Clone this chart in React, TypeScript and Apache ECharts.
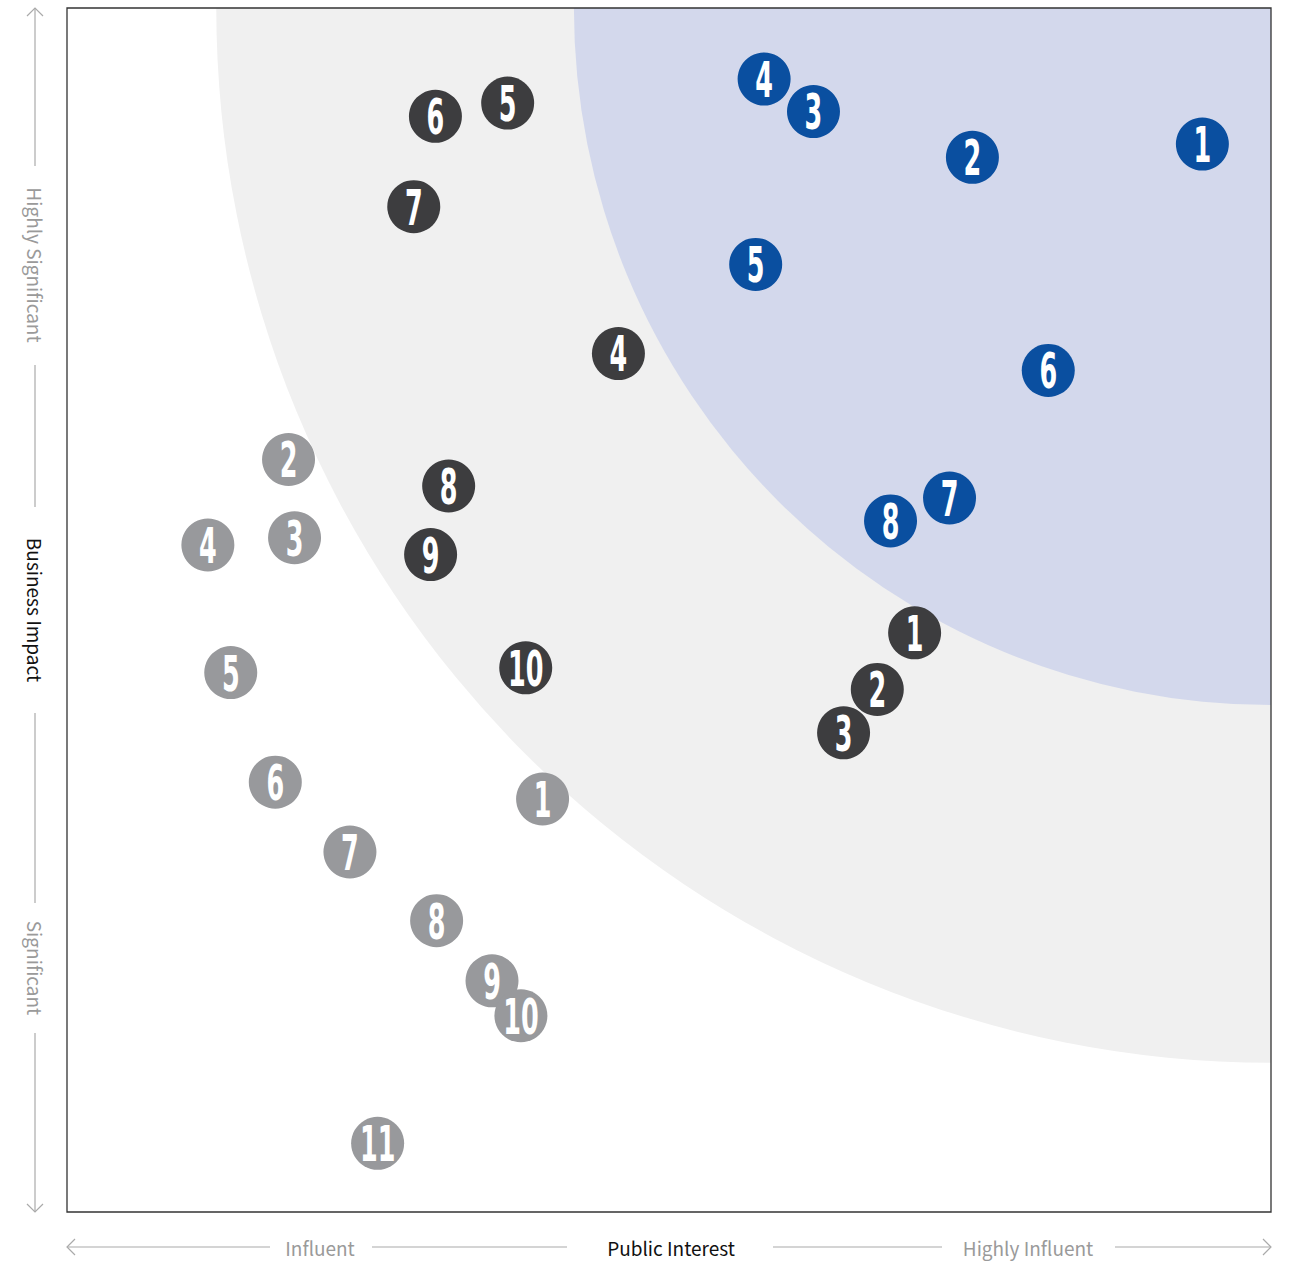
import React, { useEffect, useRef } from "react";
import * as echarts from "echarts";

// Point values on a 0–100 scale (x: Public Interest, y: Business Impact)
const blueLabels = ["1", "2", "4", "3", "5", "6", "7", "8"];
const blueX = [94.3, 75.2, 57.9, 62.0, 57.2, 81.5, 73.3, 68.4];
const blueY = [88.7, 87.6, 94.1, 91.4, 78.7, 69.9, 59.3, 57.4];

const darkLabels = ["1", "2", "3", "4", "5", "6", "7", "8", "9", "10"];
const darkX = [70.4, 67.3, 64.5, 45.8, 36.6, 30.6, 28.8, 31.7, 30.2, 38.1];
const darkY = [48.1, 43.4, 39.8, 71.3, 92.1, 91.0, 83.5, 60.3, 54.6, 45.2];

const grayLabels = ["1", "2", "3", "4", "5", "6", "7", "8", "9", "10", "11"];
const grayX = [39.5, 18.4, 18.9, 11.7, 13.6, 17.3, 23.5, 30.7, 35.3, 37.7, 25.8];
const grayY = [34.3, 62.5, 56.0, 55.4, 44.8, 35.7, 29.9, 24.2, 19.2, 16.3, 5.7];

// Zone radii (in axis units) centred at the top-right corner
const zoneOuterRadius = 87.6;
const zoneInnerRadius = 57.9;

const xAxisLabels = ["Influent", "Public Interest", "Highly Influent"];
const yAxisLabels = ["Highly Significant", "Business Impact", "Significant"];

const BLUE = "#0a4fa0";
const DARK = "#3d3d3f";
const GRAY = "#98999c";

function zoneSeries(radius: number, fill: string) {
  return {
    type: "custom",
    silent: true,
    clip: true,
    data: [[100, 100, radius]],
    encode: { x: 0, y: 1 },
    renderItem: (params: any, api: any) => {
      const c = api.coord([api.value(0), api.value(1)]);
      const r = api.size([api.value(2), 0])[0];
      return {
        type: "sector",
        shape: { cx: c[0], cy: c[1], r, r0: 0, startAngle: Math.PI / 2, endAngle: Math.PI, clockwise: true },
        style: { fill },
      };
    },
  };
}

function markerSeries(labels: string[], xs: number[], ys: number[], color: string) {
  return {
    type: "custom",
    clip: false,
    data: xs.map((x, i) => [x, ys[i]]),
    encode: { x: 0, y: 1 },
    renderItem: (params: any, api: any) => {
      const p = api.coord([api.value(0), api.value(1)]);
      return {
        type: "group",
        children: [
          { type: "circle", shape: { cx: p[0], cy: p[1], r: 26.5 }, style: { fill: color } },
          {
            type: "text",
            x: p[0],
            y: p[1] + 1,
            scaleX: 0.52,
            style: {
              text: labels[params.dataIndex],
              fill: "#ffffff",
              fontSize: 49,
              fontWeight: "bold",
              fontFamily: "DejaVu Sans",
              align: "center",
              verticalAlign: "middle",
            },
          },
        ],
      };
    },
  };
}

export default function App() {
  const ref = useRef<HTMLDivElement>(null);

  useEffect(() => {
    document.body.style.margin = "0";
    if (!ref.current) return;
    const chart = echarts.init(ref.current, undefined, { renderer: "svg" });

    const lineColor = "#aaaaaa";
    const textGray = "#9a9a9a";
    const textDark = "#111111";
    const font = "'Noto Sans CJK KR', 'Noto Sans', sans-serif";

    const seg = (x1: number, y1: number, x2: number, y2: number) => ({
      type: "line",
      shape: { x1, y1, x2, y2 },
      style: { stroke: lineColor, lineWidth: 1.2 },
      silent: true,
    });
    const chevron = (pts: number[][]) => ({
      type: "polyline",
      shape: { points: pts },
      style: { stroke: lineColor, lineWidth: 1.2, fill: null },
      silent: true,
    });
    const label = (text: string, x: number, y: number, color: string, rotate: boolean) => ({
      type: "text",
      x,
      y,
      rotation: rotate ? -Math.PI / 2 : 0,
      style: { text, fill: color, fontSize: 19, fontFamily: font, align: "center", verticalAlign: "middle" },
      silent: true,
    });

    const by = 1247;
    const lx = 35;

    const graphic: any[] = [
      { type: "rect", shape: { x: 67, y: 8, width: 1204, height: 1204 }, style: { fill: null, stroke: "#333333", lineWidth: 1.3 }, z: 100, silent: true },
      // bottom axis
      seg(67, by, 270, by),
      seg(372, by, 567, by),
      seg(773, by, 942, by),
      seg(1115, by, 1271, by),
      chevron([[75, by - 8], [67, by], [75, by + 8]]),
      chevron([[1263, by - 8], [1271, by], [1263, by + 8]]),
      label(xAxisLabels[0], 320, by, textGray, false),
      label(xAxisLabels[1], 671, by, textDark, false),
      label(xAxisLabels[2], 1028, by, textGray, false),
      // left axis
      seg(lx, 8, lx, 166),
      seg(lx, 365, lx, 507),
      seg(lx, 713, lx, 903),
      seg(lx, 1033, lx, 1212),
      chevron([[lx - 8, 16], [lx, 8], [lx + 8, 16]]),
      chevron([[lx - 8, 1204], [lx, 1212], [lx + 8, 1204]]),
      label(yAxisLabels[0], lx, 265, textGray, true),
      label(yAxisLabels[1], lx, 610, textDark, true),
      label(yAxisLabels[2], lx, 968, textGray, true),
    ];

    chart.setOption({
      animation: false,
      grid: { left: 67, top: 8, width: 1204, height: 1204, show: false },
      xAxis: { type: "value", min: 0, max: 100, show: false },
      yAxis: { type: "value", min: 0, max: 100, show: false },
      series: [
        zoneSeries(zoneOuterRadius, "#f0f0f0"),
        zoneSeries(zoneInnerRadius, "#d3d8ec"),
        markerSeries(grayLabels, grayX, grayY, GRAY),
        markerSeries(darkLabels, darkX, darkY, DARK),
        markerSeries(blueLabels, blueX, blueY, BLUE),
      ],
      graphic,
    });

    return () => chart.dispose();
  }, []);

  return <div ref={ref} style={{ width: 1290, height: 1262 }} />;
}
